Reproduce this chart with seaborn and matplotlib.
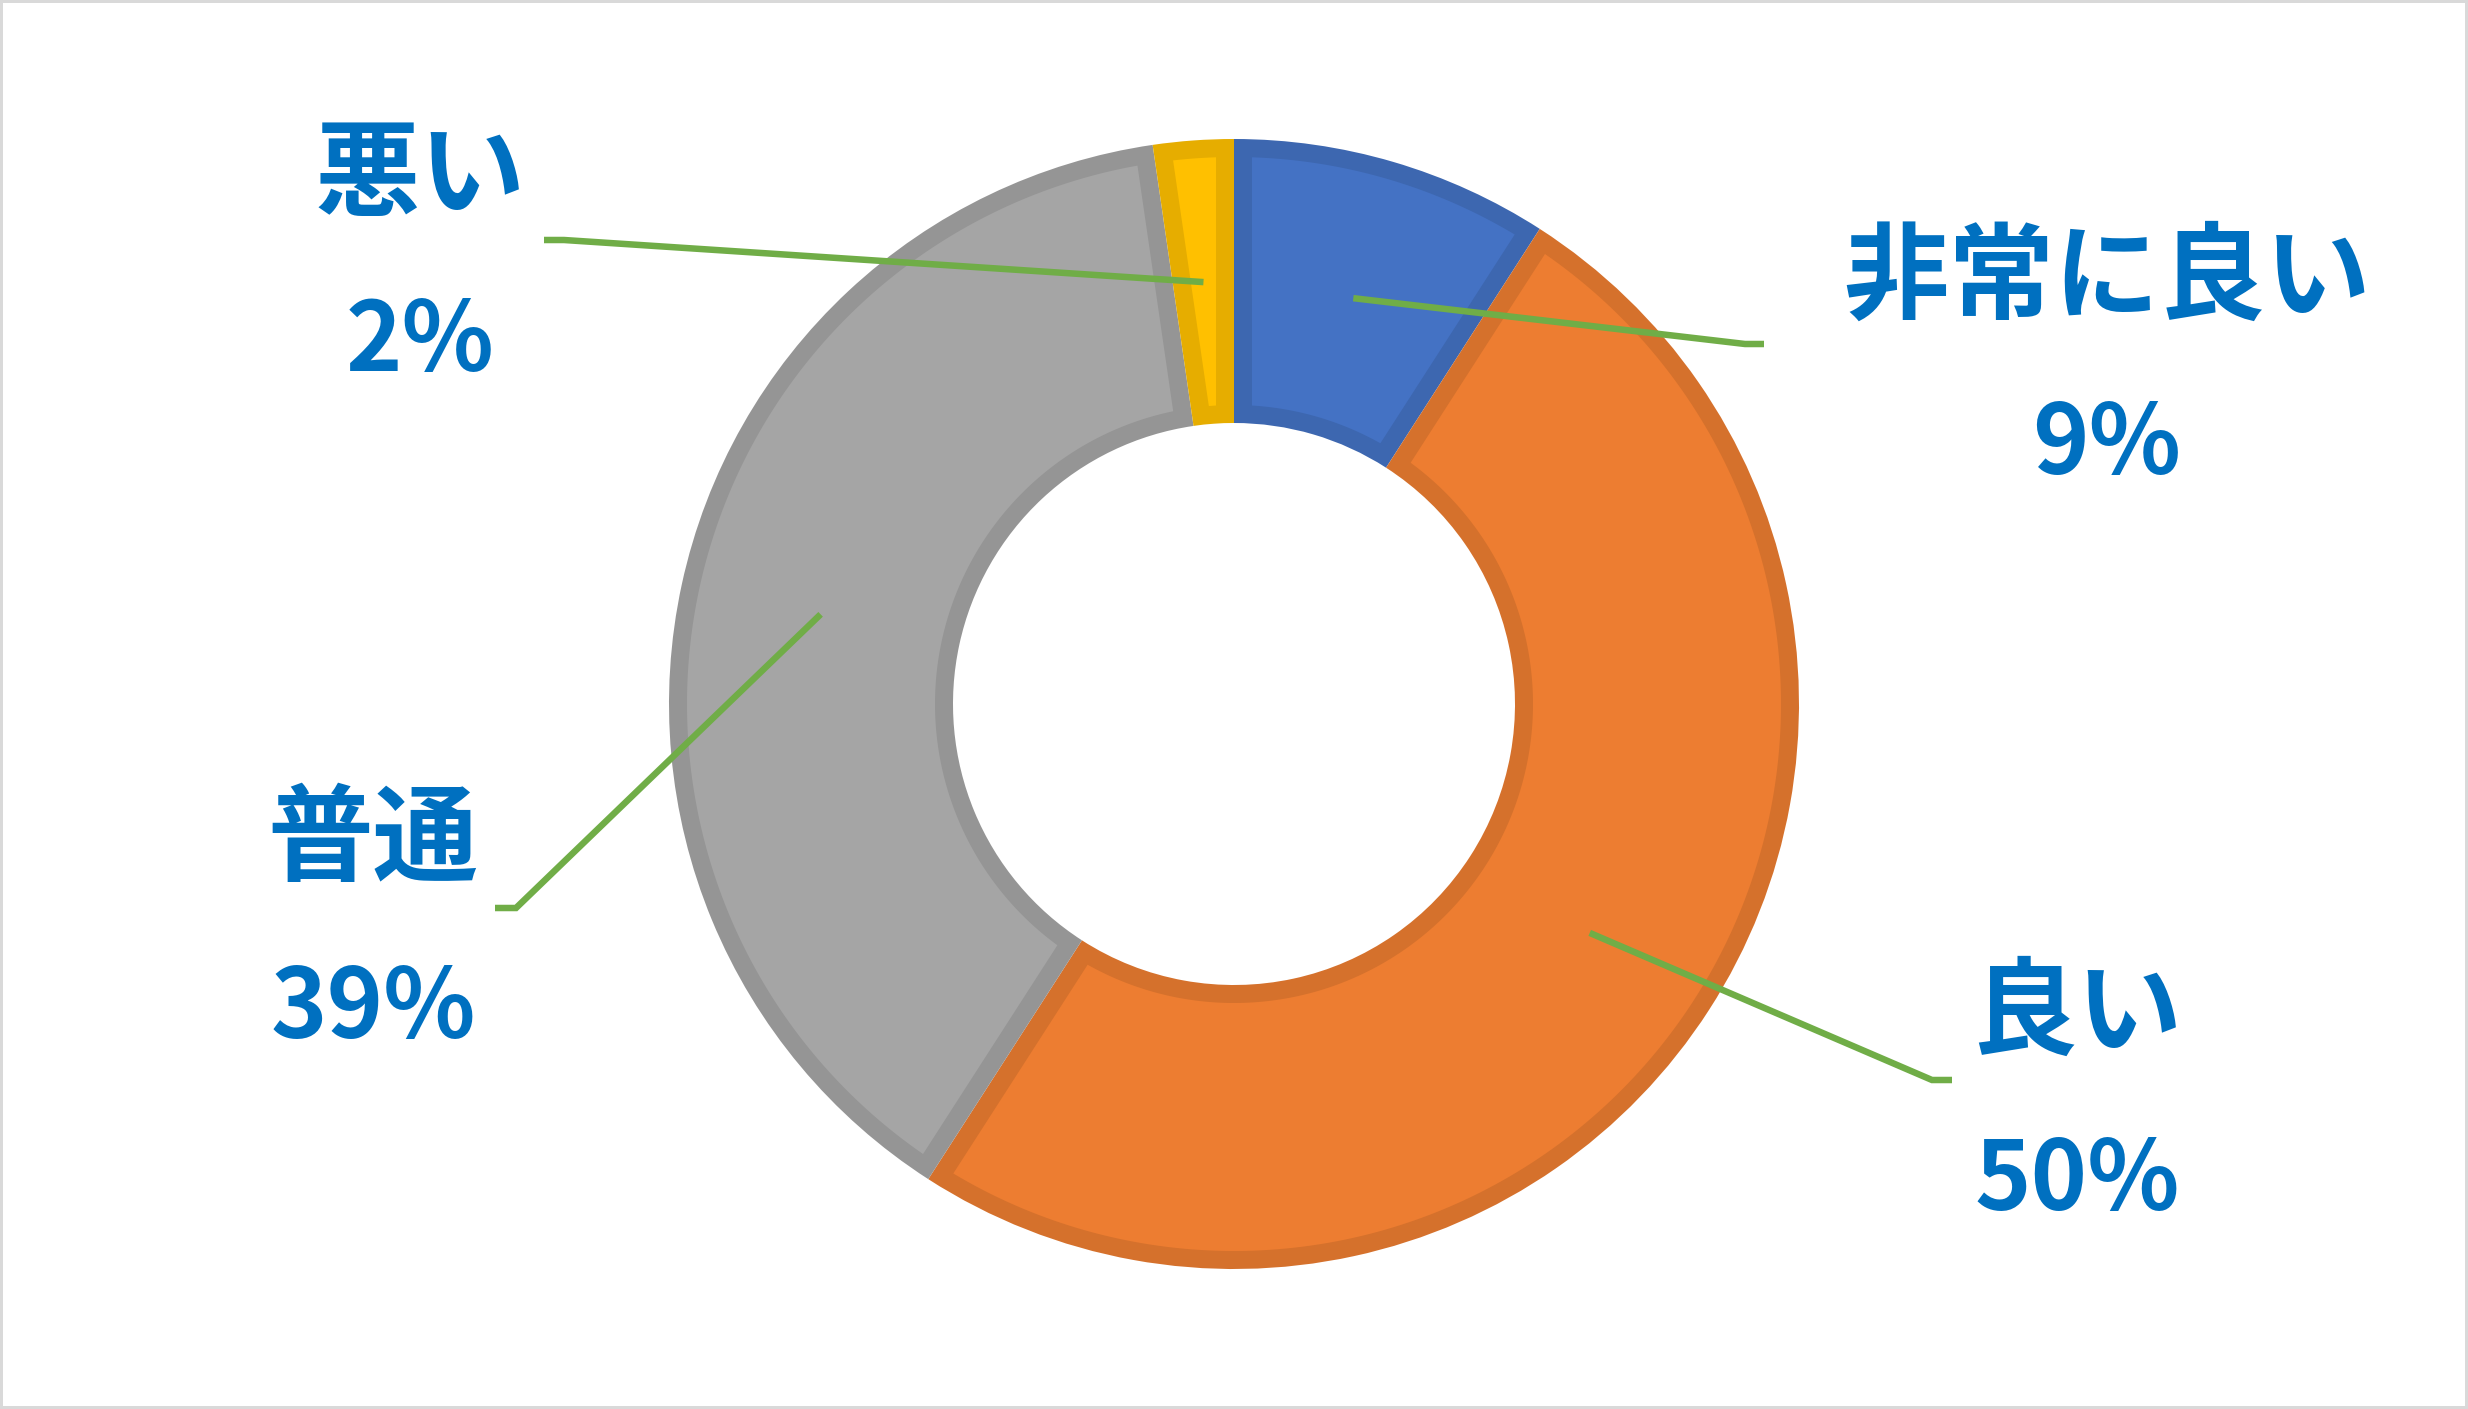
import numpy as np
import matplotlib
matplotlib.use("Agg")
import matplotlib.pyplot as plt
from matplotlib.patches import Polygon, Rectangle
import seaborn as sns

# ---- data ----
categories = ["非常に良い", "良い", "普通", "悪い"]
values = [9.1, 50.0, 38.6, 2.3]
fill_colors = ["#4472C4", "#ED7D31", "#A5A5A5", "#FFC000"]
edge_colors = ["#3D67B0", "#D5712C", "#959595", "#E6AD00"]

# ---- layout (pixel coordinates, y measured from top) ----
W, H = 2468, 1409
CX, CY = 1234, 704
R_OUT, R_IN = 565, 281
INSET = 18
label_pos = {          # (x, y of category text, y of percent text)
    "非常に良い": (2107, 279, 446),
    "良い": (2077, 1015, 1182),
    "普通": (373, 842, 1010),
    "悪い": (420, 177, 343),
}
elbows = {             # (elbow point, end of horizontal stub)
    "非常に良い": ((1745, 344), (1764, 344)),
    "良い": ((1932, 1080), (1952, 1080)),
    "普通": ((516, 908), (495, 908)),
    "悪い": ((564, 240), (544, 240)),
}

sns.set_theme(style="white")
plt.rcParams["font.family"] = ["Noto Sans CJK JP", "DejaVu Sans"]

fig = plt.figure(figsize=(W / 100, H / 100), dpi=100)
ax = fig.add_axes([0, 0, 1, 1])

def fy(y):
    return H - y

# outer layer: the darker outline colour fills the whole wedge
wedges, _ = ax.pie(values, colors=edge_colors, startangle=90, counterclock=False,
                   radius=R_OUT, center=(CX, fy(CY)),
                   wedgeprops=dict(width=R_OUT - R_IN, linewidth=0))

# inner layer: lighter fill inset from every side of each wedge
for w, fc in zip(wedges, fill_colors):
    t1, t2 = np.deg2rad(w.theta1), np.deg2rad(w.theta2)
    cx, cy = w.center
    ro, ri = w.r - INSET, w.r - w.width + INSET
    do, di = np.arcsin(INSET / ro), np.arcsin(INSET / ri)
    a_out = np.linspace(t1 + do, t2 - do, 200)
    a_in = np.linspace(t2 - di, t1 + di, 200)
    xs = np.concatenate([cx + ro * np.cos(a_out), cx + ri * np.cos(a_in)])
    ys = np.concatenate([cy + ro * np.sin(a_out), cy + ri * np.sin(a_in)])
    ax.add_patch(Polygon(np.column_stack([xs, ys]), closed=True, facecolor=fc,
                         edgecolor="none", zorder=w.get_zorder() + 0.1))

px = 72 / 100  # points per pixel
total = sum(values)
r_mid = (R_OUT + R_IN) / 2
text_color = "#0070C0"
line_color = "#70AD47"
for w, cat, v in zip(wedges, categories, values):
    ang = np.deg2rad((w.theta1 + w.theta2) / 2)
    ax_, ay_ = CX + r_mid * np.cos(ang), fy(CY) + r_mid * np.sin(ang)
    (ex, ey), (sx, sy) = elbows[cat]
    ax.plot([ax_, ex, sx], [ay_, fy(ey), fy(sy)], color=line_color,
            linewidth=6.5 * px, solid_joinstyle="miter", solid_capstyle="butt", zorder=5)
    lx, ly1, ly2 = label_pos[cat]
    ax.text(lx, fy(ly1), cat, color=text_color, fontsize=76, fontweight="bold",
            ha="center", va="center")
    ax.text(lx, fy(ly2), f"{round(v / total * 100)}%", color=text_color, fontsize=69,
            fontweight="bold", ha="center", va="center")

ax.set_xlim(0, W)
ax.set_ylim(0, H)
ax.set_aspect("auto")
ax.axis("off")

fig.patches.append(Rectangle((0, 0), 1, 1, transform=fig.transFigure, fill=False,
                             edgecolor="#D9D9D9", linewidth=6 * px))

fig.savefig("out.png", dpi=100, facecolor="white")
